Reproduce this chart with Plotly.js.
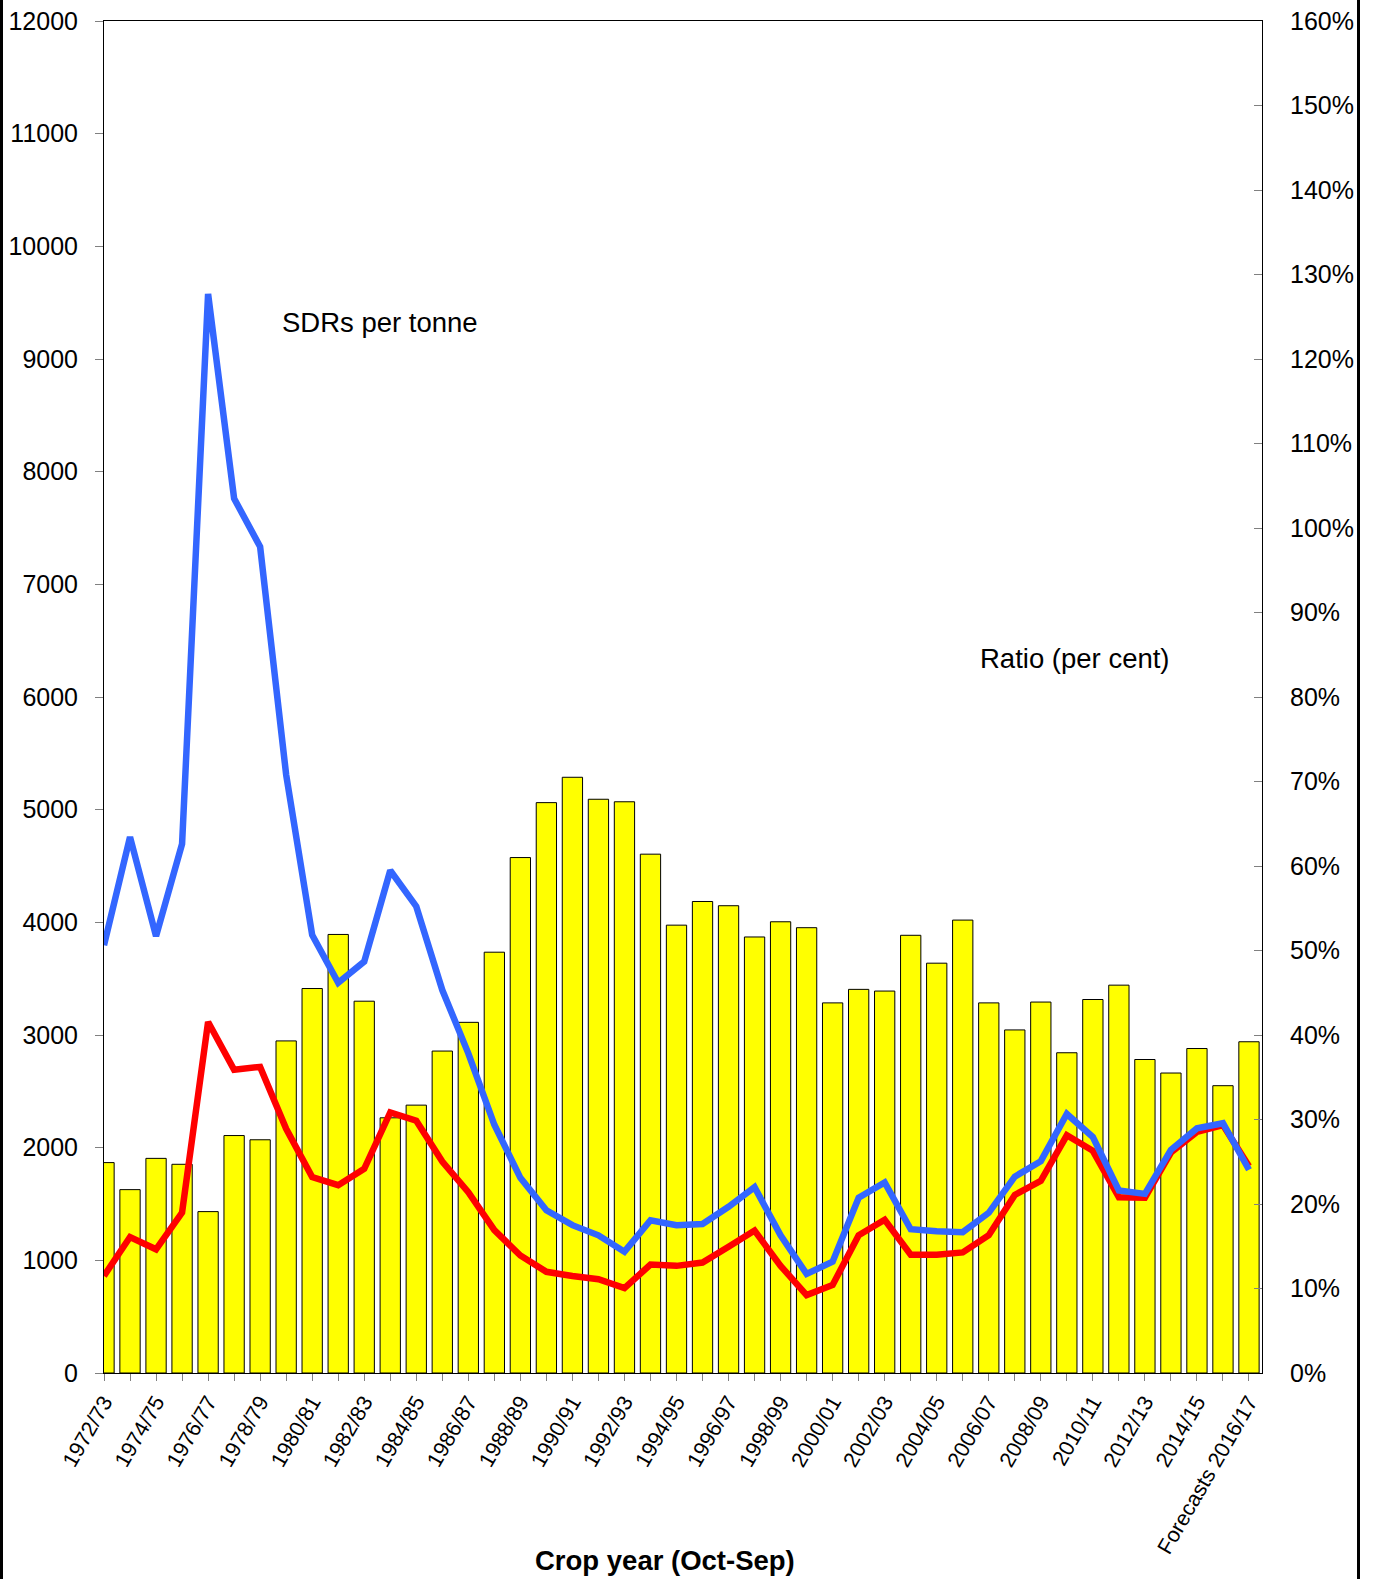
<!DOCTYPE html>
<html>
<head>
<meta charset="utf-8">
<script src="https://cdn.plot.ly/plotly-3.0.1.min.js"></script>
<style>
  html, body { margin: 0; padding: 0; background: #fff; }
  #chart { width: 1374px; height: 1579px; }
</style>
</head>
<body>
<div id="chart"></div>
<script>
// crop years, Oct-Sep
const cropYears = [
  '1972/73', '1973/74', '1974/75', '1975/76', '1976/77', '1977/78', '1978/79', '1979/80',
  '1980/81', '1981/82', '1982/83', '1983/84', '1984/85', '1985/86', '1986/87', '1987/88',
  '1988/89', '1989/90', '1990/91', '1991/92', '1992/93', '1993/94', '1994/95', '1995/96',
  '1996/97', '1997/98', '1998/99', '1999/00', '2000/01', '2001/02', '2002/03', '2003/04',
  '2004/05', '2005/06', '2006/07', '2007/08', '2008/09', '2009/10', '2010/11', '2011/12',
  '2012/13', '2013/14', '2014/15', '2015/16', '2016/17'
];

// labels shown under every second tick
const tickLabels = [
  '1972/73', '1974/75', '1976/77', '1978/79', '1980/81', '1982/83', '1984/85', '1986/87',
  '1988/89', '1990/91', '1992/93', '1994/95', '1996/97', '1998/99', '2000/01', '2002/03',
  '2004/05', '2006/07', '2008/09', '2010/11', '2012/13', '2014/15', 'Forecasts 2016/17'
];

// stocks ratio, per cent (bars, right axis)
const ratioPct = [
  24.9, 21.7, 25.4, 24.7, 19.1, 28.1, 27.6, 39.3, 45.5, 51.9, 44.0, 30.2, 31.7, 38.1, 41.5,
  49.8, 61.0, 67.5, 70.5, 67.9, 67.6, 61.4, 53.0, 55.8, 55.3, 51.6, 53.4, 52.7, 43.8, 45.4,
  45.2, 51.8, 48.5, 53.6, 43.8, 40.6, 43.9, 37.9, 44.2, 45.9, 37.1, 35.5, 38.4, 34.0, 39.2
];

// SDRs per tonne, blue line
const sdrBlue = [
  3797, 4757, 3877, 4696, 9577, 7762, 7333, 5310, 3888, 3464, 3652, 4460, 4141, 3399, 2837,
  2203, 1732, 1444, 1312, 1222, 1077, 1356, 1312, 1323, 1475, 1649, 1222, 879, 988, 1556,
  1692, 1276, 1258, 1250, 1422, 1743, 1880, 2299, 2095, 1620, 1590, 1981, 2171, 2217, 1804
];

// SDRs per tonne, red line
const sdrRed = [
  862, 1207, 1098, 1424, 3116, 2692, 2717, 2167, 1739, 1667, 1812, 2312, 2239, 1877, 1605,
  1268, 1043, 898, 861, 833, 754, 962, 951, 980, 1120, 1264, 951, 691, 781, 1223,
  1360, 1049, 1049, 1070, 1223, 1581, 1706, 2110, 1972, 1560, 1555, 1957, 2140, 2201, 1835
];

const FONT = 'Liberation Sans, Arial, sans-serif';

// one tick per crop year, a label on every second one
let k = 0;
const tickText = cropYears.map((c, i) => (i % 2 === 0 ? tickLabels[k++] : ''));

const W = 1374, H = 1579;
const M = { l: 104, r: 112, t: 21, b: 206 };
const pw = W - M.l - M.r;
const ph = H - M.t - M.b;
const px = x => (x - M.l) / pw;
const py = y => (H - M.b - y) / ph;

const bars = {
  type: 'bar',
  name: 'Ratio (per cent)',
  x: cropYears,
  y: ratioPct,
  yaxis: 'y',
  marker: { color: '#ffff00', line: { color: '#000000', width: 1 } },
  hoverinfo: 'x+y'
};

const redLine = {
  type: 'scatter',
  mode: 'lines',
  name: 'SDRs per tonne',
  x: cropYears,
  y: sdrRed,
  yaxis: 'y2',
  line: { color: '#ff0000', width: 6.5 }
};

const blueLine = {
  type: 'scatter',
  mode: 'lines',
  name: 'SDRs per tonne',
  x: cropYears,
  y: sdrBlue,
  yaxis: 'y2',
  line: { color: '#3366ff', width: 6.5 }
};

const layout = {
  width: W,
  height: H,
  margin: M,
  paper_bgcolor: '#ffffff',
  plot_bgcolor: '#ffffff',
  showlegend: false,
  bargap: 0.22,
  font: { family: FONT, size: 25, color: '#000' },
  xaxis: {
    type: 'category',
    range: [0, 44.5],
    tickvals: cropYears,
    ticktext: tickText,
    tickangle: -60,
    ticks: 'outside',
    ticklen: 7,
    tickcolor: '#808080',
    tickfont: { family: FONT, size: 21.5 },
    showline: true,
    linecolor: '#000',
    linewidth: 1,
    mirror: true,
    showgrid: false,
    automargin: false
  },
  // ratio axis on the right (drawn under the lines)
  yaxis: {
    side: 'right',
    range: [0, 160],
    dtick: 10,
    ticksuffix: '%',
    ticks: 'inside',
    ticklen: 8,
    tickcolor: '#808080',
    ticklabelstandoff: 22,
    showline: true,
    linecolor: '#000',
    showgrid: false,
    zeroline: false,
    automargin: false
  },
  // price axis on the left
  yaxis2: {
    overlaying: 'y',
    side: 'left',
    range: [0, 12000],
    dtick: 1000,
    tickformat: 'd',
    ticks: 'outside',
    ticklen: 8,
    tickcolor: '#808080',
    ticklabelstandoff: 12,
    showline: true,
    linecolor: '#000',
    showgrid: false,
    zeroline: false,
    automargin: false
  },
  annotations: [
    {
      text: 'SDRs per tonne', xref: 'paper', yref: 'paper',
      x: px(280), y: py(323), xanchor: 'left', yanchor: 'middle',
      showarrow: false, font: { family: FONT, size: 27.5 }
    },
    {
      text: 'Ratio (per cent)', xref: 'paper', yref: 'paper',
      x: px(978), y: py(658), xanchor: 'left', yanchor: 'middle',
      showarrow: false, font: { family: FONT, size: 27.5 }
    },
    {
      text: '<b>Crop year (Oct-Sep)</b>', xref: 'paper', yref: 'paper',
      x: px(665), y: py(1560), xanchor: 'center', yanchor: 'middle',
      showarrow: false, font: { family: FONT, size: 27.5 }
    }
  ],
  // frame lines at the picture edges
  shapes: [
    { type: 'line', xref: 'paper', yref: 'paper', x0: px(1.5), x1: px(1.5), y0: py(H + 5), y1: py(-5),
      line: { color: '#000', width: 3 } },
    { type: 'line', xref: 'paper', yref: 'paper', x0: px(1358.5), x1: px(1358.5), y0: py(H + 5), y1: py(-5),
      line: { color: '#000', width: 3 } }
  ]
};

Plotly.newPlot('chart', [bars, redLine, blueLine], layout, { staticPlot: true });
</script>
</body>
</html>
